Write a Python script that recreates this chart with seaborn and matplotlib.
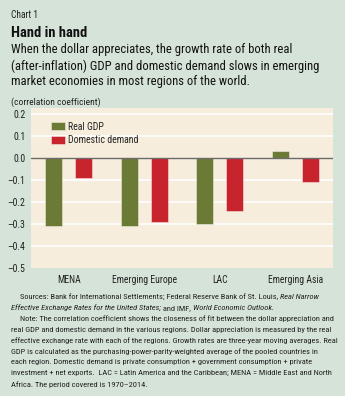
import matplotlib
matplotlib.use("Agg")
import matplotlib.pyplot as plt
import seaborn as sns
import pandas as pd

regions = ["MENA", "Emerging Europe", "LAC", "Emerging Asia"]
real_gdp = [-0.31, -0.31, -0.30, 0.03]
domestic_demand = [-0.09, -0.29, -0.24, -0.11]
series_names = ["Real GDP", "Domestic demand"]
yticks = [0.2, 0.1, 0.0, -0.1, -0.2, -0.3, -0.4, -0.5]

BG = "#d6e3d8"
PLOT_BG = "#f6eddc"
GREEN = "#6b7a34"
RED = "#c8242e"
FONT = ["Roboto Condensed", "Liberation Sans Narrow", "Roboto", "DejaVu Sans"]

sns.set_theme(style="white")
plt.rcParams["font.family"] = FONT

df = pd.DataFrame({
    "region": regions * 2,
    "value": real_gdp + domestic_demand,
    "series": [series_names[0]] * 4 + [series_names[1]] * 4,
})

W, H = 345, 396
fig = plt.figure(figsize=(W / 100, H / 100), dpi=100, facecolor=BG)
fig.canvas.draw()
renderer = fig.canvas.get_renderer()


def width_at(text, size=10, **kw):
    t = fig.text(0, 0, text, fontsize=size, **kw)
    w = t.get_window_extent(renderer=renderer).width
    t.remove()
    return w


def fit_size(text, target_px, **kw):
    return 10 * target_px / width_at(text, 10, **kw)


def px(x0, y0, x1, y1):
    return [x0 / W, 1 - y1 / H, (x1 - x0) / W, (y1 - y0) / H]


ax = fig.add_axes(px(31, 108, 333, 268))
ax.set_facecolor(PLOT_BG)

sns.barplot(data=df, x="region", y="value", hue="series", order=regions,
            hue_order=series_names, palette=[GREEN, RED], saturation=1,
            width=0.8, gap=0.43, edgecolor=(1, 1, 1, 0.5), linewidth=0.6,
            ax=ax, zorder=3)

ax.set_ylim(-0.5, 0.225)
ax.set_xlim(-0.5, 3.5)
ax.set_yticks(yticks)
ax.set_yticklabels([f"{v:.1f}".replace("-", "\u2013") for v in yticks])
for v in yticks:
    if v not in (0.0, -0.5):
        ax.axhline(v, color="white", lw=1.2, zorder=1)
ax.axhline(0, color="#6b6b6b", lw=1.0, zorder=4)
for s in ax.spines.values():
    s.set_visible(False)
ax.set_xlabel("")
ax.set_ylabel("")

ytick_size = fit_size("\u20130.5", 18)
xtick_size = fit_size("Emerging Europe", 64)
leg_size = fit_size("Domestic demand", 70)

ax.tick_params(axis="y", length=0, labelsize=ytick_size, pad=4, colors="#222222")
ax.tick_params(axis="x", which="major", length=0, labelsize=xtick_size, pad=5, colors="#222222")
ax.set_xticks([-0.5, 0.5, 1.5, 2.5, 3.5], minor=True)
ax.tick_params(axis="x", which="minor", direction="in", length=3, width=0.8, color="#555555")

ax.legend(loc="upper left", bbox_to_anchor=(0.066, 0.915), frameon=False,
          fontsize=leg_size, handlelength=1.45, handleheight=0.9, handletextpad=0.3,
          labelspacing=0.35, borderaxespad=0, borderpad=0)

fig.text(11 / W, 1 - 15 / H, "Chart 1", fontsize=fit_size("Chart 1", 27),
         va="center", ha="left", color="#222222")
fig.text(11 / W, 1 - 33 / H, "Hand in hand",
         fontsize=fit_size("Hand in hand", 76, fontweight="bold"), fontweight="bold",
         va="center", ha="left", color="#111111")
sub = ["When the dollar appreciates, the growth rate of both real",
       "(after-inflation) GDP and domestic demand slows in emerging",
       "market economies in most regions of the world."]
sub_size = fit_size(sub[1], 304)
for i, line in enumerate(sub):
    fig.text(11 / W, 1 - (50 + 16 * i) / H, line, fontsize=sub_size, va="center",
             ha="left", color="#111111")
fig.text(11 / W, 1 - 102 / H, "(correlation coefficient)",
         fontsize=fit_size("(correlation coefficient)", 88),
         va="center", ha="left", color="#222222")

foot = [
    (20, [("Sources: Bank for International Settlements; Federal Reserve Bank of St. Louis, ", "normal"),
          ("Real Narrow", "italic")]),
    (11, [("Effective Exchange Rates for the United States;", "italic"),
          (" and IMF, ", "normal"), ("World Economic Outlook.", "italic")]),
    (20, [("Note: The correlation coefficient shows the closeness of fit between the dollar appreciation and", "normal")]),
    (11, [("real GDP and domestic demand in the various regions. Dollar appreciation is measured by the real", "normal")]),
    (11, [("effective exchange rate with each of the regions. Growth rates are three-year moving averages. Real", "normal")]),
    (11, [("GDP is calculated as the purchasing-power-parity-weighted average of the pooled countries in", "normal")]),
    (11, [("each region. Domestic demand is private consumption + government consumption + private", "normal")]),
    (11, [("investment + net exports.  LAC = Latin America and the Caribbean; MENA = Middle East and North", "normal")]),
    (11, [("Africa. The period covered is 1970\u20132014.", "normal")]),
]
foot_size = fit_size(foot[2][1][0][0], 312)
for i, (x0, segs) in enumerate(foot):
    y = 1 - (297 + 10.9 * i) / H
    x = x0 / W
    for txt, style in segs:
        t = fig.text(x, y, txt, fontsize=foot_size, style=style, va="center",
                     ha="left", color="#222222")
        bb = t.get_window_extent(renderer=renderer)
        x += bb.width / W

fig.savefig("out.png", dpi=100, facecolor=BG)
